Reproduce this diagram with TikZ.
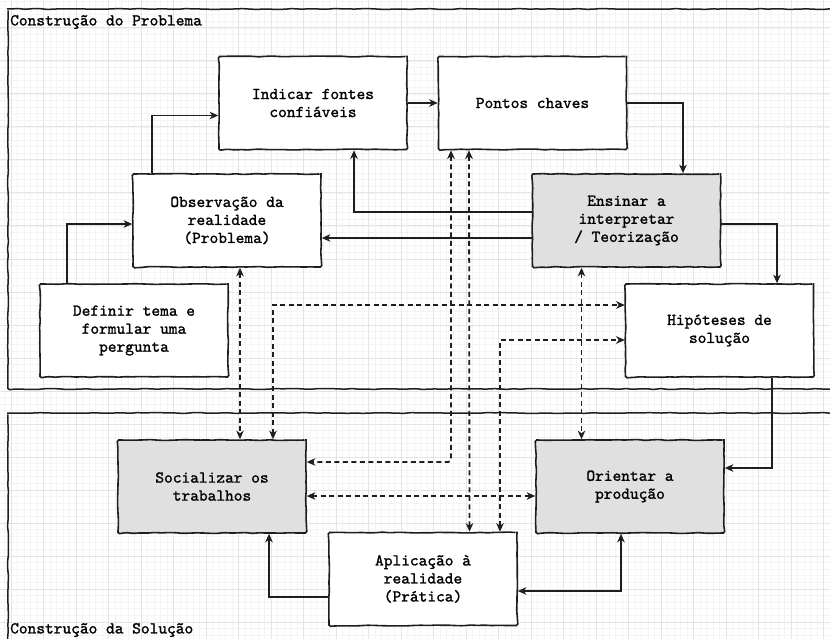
\documentclass[tikz,border=0pt]{standalone}
\usepackage{fontspec}
\newfontfamily\boxfont{lmmono10-regular.otf}[AutoFakeBold=1.3]
\usetikzlibrary{arrows.meta,decorations.pathmorphing}
\definecolor{gridminor}{RGB}{244,244,244}
\definecolor{gridmajor}{RGB}{228,228,228}
\definecolor{ink}{RGB}{30,30,30}
\definecolor{shade}{RGB}{224,224,224}
\begin{document}
\begin{tikzpicture}[x=1pt,y=-1pt,
  txt/.style={font=\boxfont\bfseries\fontsize{16.6}{18}\selectfont, text=black},
  sketch/.style={decorate, decoration={random steps, segment length=7pt, amplitude=0.45pt}, rounded corners=1.5pt},
  stepbox/.style={txt, sketch, draw=ink, line width=1.6pt, fill=white,
    minimum width=188pt, minimum height=93pt, inner sep=0pt, align=center},
  darkbox/.style={stepbox, fill=shade},
  frame/.style={sketch, draw=ink, line width=1.5pt},
  tip/.tip={Stealth[length=8.5pt,width=7.5pt,inset=2.5pt]},
  link/.style={draw=ink, line width=1.8pt, -tip},
  both/.style={draw=ink, line width=1.8pt, tip-tip},
  dlink/.style={both, dash pattern=on 5pt off 3.5pt}]

\useasboundingbox (0,0) rectangle (830,639);
\clip (0,0) rectangle (830,639);
\fill[white] (0,0) rectangle (830,639);

% background grid
\foreach \k in {-1,...,126}
  \draw[gridminor, line width=0.8pt] ({11+6.5*\k},0) -- ({11+6.5*\k},639);
\foreach \k in {-4,...,92}
  \draw[gridminor, line width=0.8pt] (0,{28+6.6*\k}) -- (830,{28+6.6*\k});
\foreach \k in {0,...,25}
  \draw[gridmajor, line width=1pt] ({11+32.5*\k},0) -- ({11+32.5*\k},639);
\foreach \k in {0,...,18}
  \draw[gridmajor, line width=1pt] (0,{28+33*\k}) -- (830,{28+33*\k});

\pgfmathsetseed{7}
% the two stages
\draw[frame] (8,9) rectangle (860,389);
\draw[frame] (8,413) rectangle (860,670);
\node[txt, anchor=west, inner sep=0pt] (probtitle) at (10,22) {Construção do Problema};
\node[txt, anchor=west, inner sep=0pt] (soltitle) at (10,630) {Construção da Solução};

% steps
\node[stepbox] (ind) at (313,103) {Indicar fontes\\confiáveis};
\node[stepbox] (pon) at (532.5,103) {Pontos chaves};
\node[stepbox] (obs) at (227,220.5) {Observação da\\realidade\\(Problema)};
\node[darkbox] (ens) at (626.5,220.5) {Ensinar a\\interpretar\\/ Teorização};
\node[stepbox] (def) at (134,330.5) {Definir tema e\\formular uma\\pergunta};
\node[stepbox] (hip) at (719.5,330.5) {Hipóteses de\\solução};
\node[darkbox] (soc) at (212,486.5) {Socializar os\\trabalhos};
\node[darkbox] (ori) at (630,486.5) {Orientar a\\produção};
\node[stepbox] (apl) at (423,579) {Aplicação à\\realidade\\(Prática)};

% solid connectors
\draw[link] ([xshift=28pt]def.north west) |- ([yshift=-3.5pt]obs.west);
\draw[link] ([xshift=20pt]obs.north west) |- ([yshift=-12.5pt]ind.west);
\draw[link] (ind.east) -- (pon.west);
\draw[link] (pon.east) -| ([xshift=56.5pt]ens.north);
\draw[link] ([yshift=8.5pt]ens.west) -| ([xshift=41pt]ind.south);
\draw[link] ([yshift=-17.5pt]ens.west) -- ([yshift=-17.5pt]obs.east);
\draw[link] ([yshift=-3.5pt]ens.east) -| ([xshift=57.5pt]hip.north);
\draw[link] ([xshift=52.5pt]hip.south) |- ([yshift=18.5pt]ori.east);
\draw[both] ([yshift=-12pt]apl.east) -| ([xshift=-9pt]ori.south);
\draw[link] ([yshift=-18pt]apl.west) -| ([xshift=57pt]soc.south);

% dashed connectors
\draw[dlink] ([xshift=13pt]obs.south) -- ([xshift=28pt]soc.north);
\draw[dlink] ([xshift=61pt]soc.north) |- ([yshift=25.5pt]hip.west);
\draw[dlink, rounded corners=3pt] ([xshift=-81.5pt]pon.south) |- ([yshift=24.5pt]soc.east);
\draw[dlink] ([xshift=-63.5pt]pon.south) -- ([xshift=46.5pt]apl.north);
\draw[dlink] ([xshift=77pt]apl.north) |- ([yshift=-9.5pt]hip.west);
\draw[dlink] ([xshift=-45pt]ens.south) -- ([xshift=-48.5pt]ori.north);
\draw[dlink] ([yshift=-9.5pt]soc.east) -- ([yshift=-9.5pt]ori.west);
\end{tikzpicture}
\end{document}
